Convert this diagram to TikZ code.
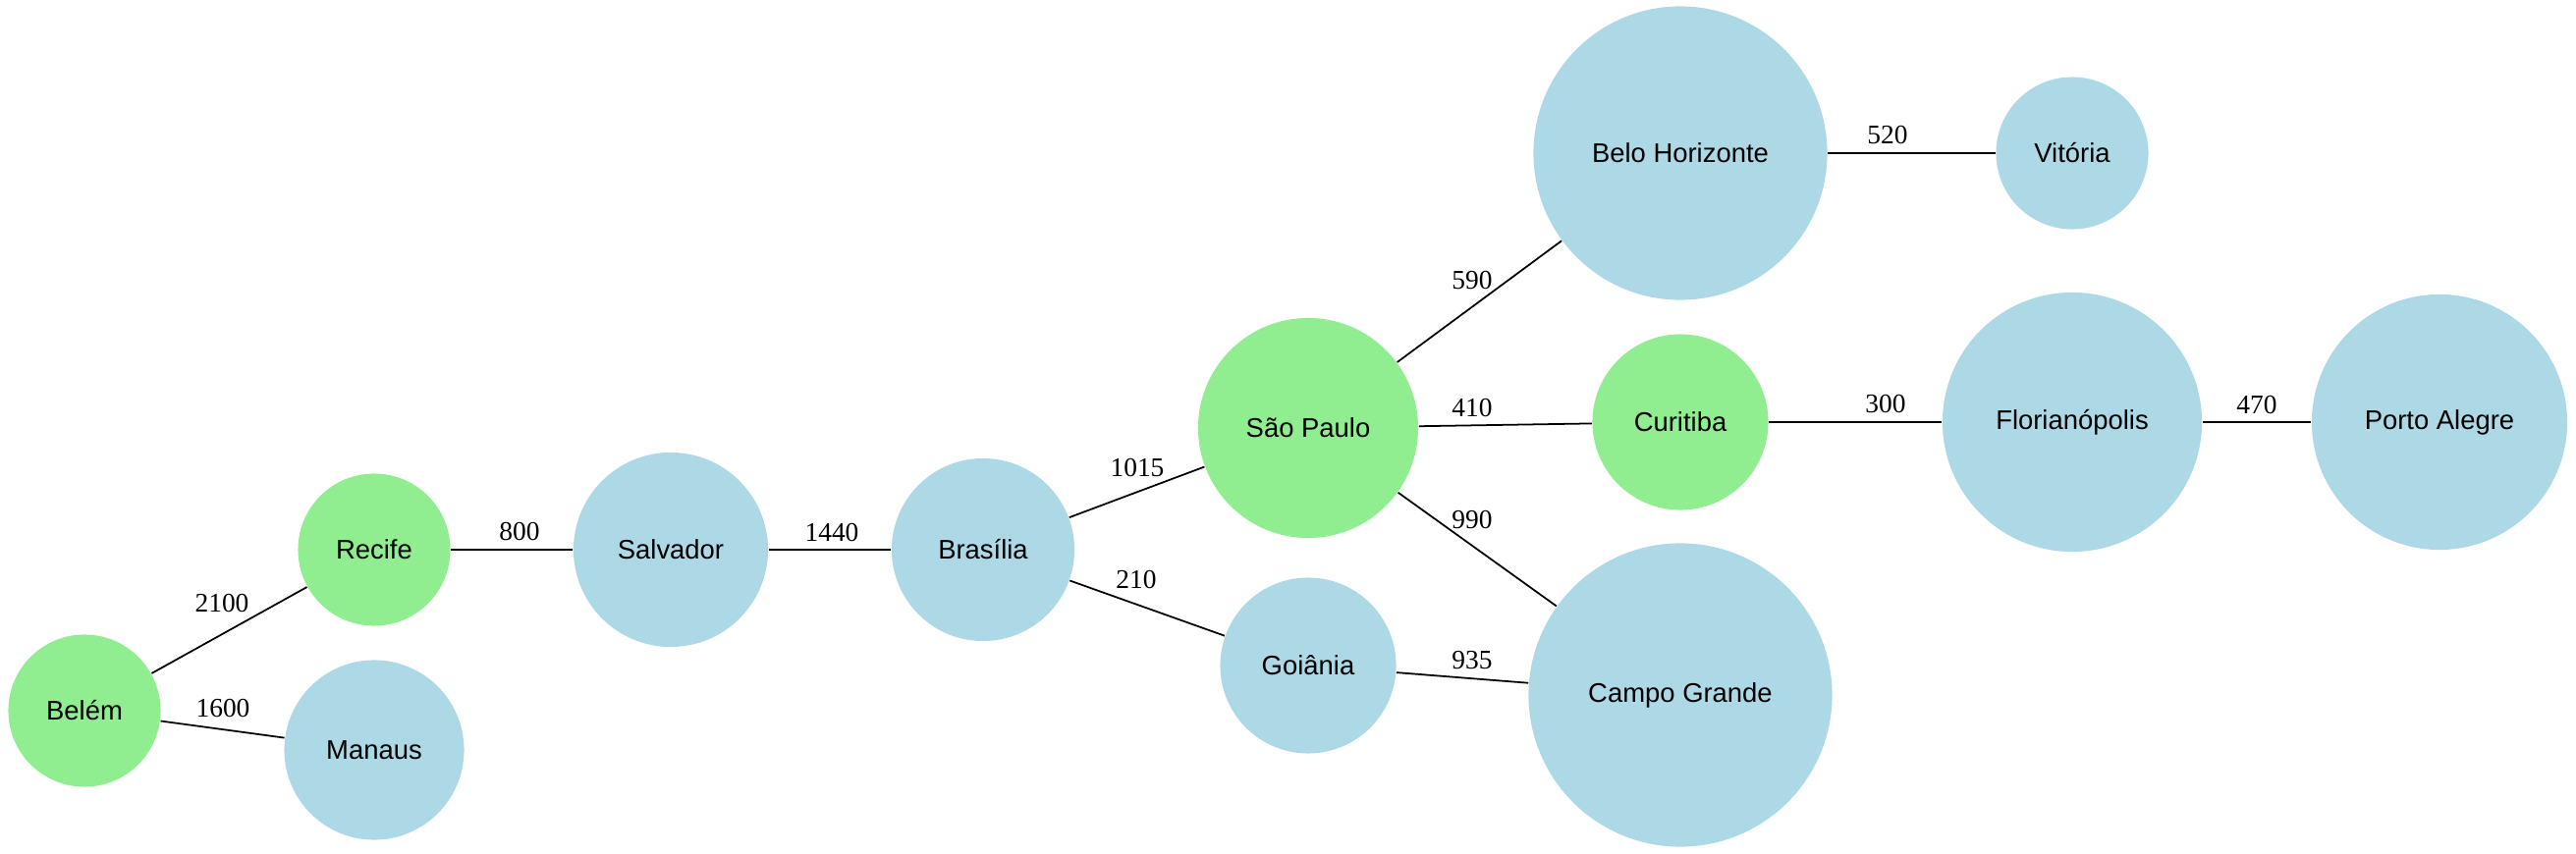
\documentclass[tikz,border=0pt]{standalone}
\usepackage{fontspec}
\setmainfont{Liberation Serif}
\newfontfamily\villefont{Liberation Sans}
\definecolor{vertclair}{RGB}{144,238,144}
\definecolor{bleuclair}{RGB}{173,216,230}
\tikzset{
  ville/.style={circle, inner sep=0pt, font=\villefont\fontsize{7.8}{9}\selectfont},
  etiquette/.style={inner sep=0pt, font=\fontsize{7.8}{9}\selectfont},
  route/.style={black, line width=0.5pt}
}
\begin{document}
\begin{tikzpicture}[x=0.01cm, y=-0.01cm]
         % Cadre de l'image
         \useasboundingbox (0,0) rectangle (2623,870);

         % Placer les villes (nom, position, diametre, couleur)
         \foreach \nom/\px/\py/\diam/\coul/\texte in {belem/86/724/1.55/vertclair/Belém, manaus/381/764/1.83/bleuclair/Manaus, recife/381/560/1.55/vertclair/Recife, salvador/683/560/1.98/bleuclair/Salvador, brasilia/1001/560/1.86/bleuclair/Brasília, saopaulo/1332/436/2.24/vertclair/São Paulo, goiania/1332/678/1.79/bleuclair/Goiânia, belohorizonte/1711/156/2.99/bleuclair/Belo Horizonte, vitoria/2110/156/1.55/bleuclair/Vitória, curitiba/1711/430/1.79/vertclair/Curitiba, campogrande/1711/708/3.09/bleuclair/Campo Grande, florianopolis/2110/430/2.64/bleuclair/Florianópolis, portoalegre/2484/430/2.60/bleuclair/Porto Alegre} {
            \node[ville, fill=\coul, minimum size=\diam cm] (\nom) at (\px,\py) {\texte};
         }

         % Relier les villes et ecrire les distances
         \foreach \a/\b/\dist/\lx/\ly in {belem/recife/2100/226/615, belem/manaus/1600/227/722, recife/salvador/800/529/542, salvador/brasilia/1440/847/543, brasilia/saopaulo/1015/1158/477, brasilia/goiania/210/1157/591, saopaulo/belohorizonte/590/1499/286, saopaulo/curitiba/410/1499/416, saopaulo/campogrande/990/1499/530, goiania/campogrande/935/1499/673, belohorizonte/vitoria/520/1922/138, curitiba/florianopolis/300/1920/412, florianopolis/portoalegre/470/2298/413} {
            \draw[route] (\a) -- (\b);
            \node[etiquette] (d\a\b) at (\lx,\ly) {\dist};
         }
      \end{tikzpicture}
\end{document}
